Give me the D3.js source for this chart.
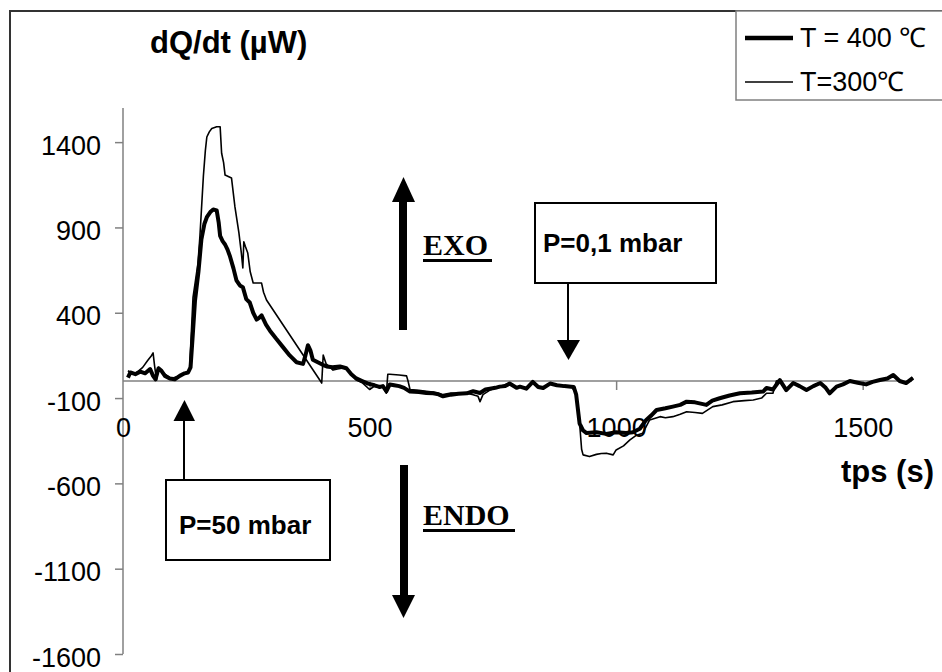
<!DOCTYPE html>
<html>
<head>
<meta charset="utf-8">
<script src="https://cdn.jsdelivr.net/npm/d3@7"></script>
<style>
html,body{margin:0;padding:0;background:#fff;}
svg{display:block;}
</style>
</head>
<body>
<svg id="chart" width="942" height="672"></svg>
<script>
// ---- data ----
const seriesNames = ["T = 400 \u2103", "T=300\u2103"];
const xTicks = [0, 500, 1000, 1500];
const yTicks = [-1600, -1100, -600, -100, 400, 900, 1400];

const time400 = [10,15,25,35,45,55,61,66,72,78,85,95,105,115,125,132,137,141,146,153,159,165,170,177,183,190,194,197,202,207,212,217,224,230,237,243,250,257,264,271,276,281,290,298,310,324,338,352,365,370,375,380,385,395,405,413,425,440,453,463,473,485,497,510,520,527,534,541,550,560,570,582,600,615,629,640,649,665,680,697,710,724,735,744,755,764,775,784,798,805,818,831,842,852,866,880,895,909,914,919,926,933,940,960,980,1000,1020,1034,1048,1061,1072,1082,1100,1115,1130,1143,1160,1183,1195,1210,1230,1251,1275,1298,1305,1318,1332,1345,1359,1372,1386,1400,1414,1425,1433,1447,1460,1474,1490,1507,1520,1535,1550,1562,1575,1588,1602];
const value400 = [20,50,40,55,45,70,30,10,75,60,30,15,10,30,45,50,80,250,470,640,830,920,960,990,1005,1000,930,850,820,800,770,730,660,590,560,550,480,460,400,360,370,385,330,295,250,200,150,110,100,150,210,180,125,110,95,85,80,85,75,40,15,0,-15,-25,-35,-30,-60,-20,-25,-30,-40,-62,-65,-70,-72,-78,-90,-80,-75,-72,-60,-70,-50,-45,-40,-33,-30,-15,-40,-33,-45,-5,-35,-41,-15,-25,-30,-33,-35,-80,-250,-290,-305,-300,-310,-300,-305,-300,-280,-228,-200,-170,-160,-150,-140,-121,-125,-140,-115,-101,-85,-72,-68,-62,-41,-50,5,-53,-12,-30,-53,-30,-12,-40,-72,-33,-20,0,-10,-20,-5,6,15,35,0,-12,18];

const time300 = [10,20,30,40,50,58,61,64,68,72,78,85,95,101,115,129,135,142,147,152,156,159,163,167,170,175,180,190,197,200,204,207,220,227,235,240,243,245,248,253,258,264,281,285,291,403,406,412,420,426,435,446,453,463,473,485,500,510,520,527,534,537,541,560,575,578,582,600,615,629,649,665,680,697,710,720,724,730,744,764,784,798,805,818,831,842,852,866,880,895,909,919,926,930,933,946,960,970,980,994,1000,1015,1028,1040,1054,1068,1089,1100,1115,1130,1143,1160,1175,1196,1215,1237,1260,1278,1295,1305,1318,1325,1332,1345,1359,1372,1386,1400,1414,1425,1433,1447,1460,1474,1490,1507,1520,1535,1550,1562,1575,1588,1602];
const value300 = [60,40,55,80,120,150,165,90,5,80,55,40,20,18,30,47,70,490,590,690,850,1000,1200,1350,1430,1460,1480,1490,1490,1335,1280,1207,1190,1020,870,750,662,816,790,750,640,574,574,520,475,-12,152,100,80,64,70,76,70,40,6,-10,-50,-30,-40,-33,-72,40,40,35,30,0,-50,-55,-60,-65,-80,-70,-72,-72,-80,-90,-121,-80,-53,-33,-12,-41,-33,-40,0,-30,-41,-12,-25,-33,-33,-72,-250,-400,-433,-443,-430,-425,-423,-433,-404,-380,-345,-320,-306,-228,-209,-215,-209,-195,-180,-185,-190,-150,-140,-121,-115,-111,-100,-72,-72,0,6,-53,-12,-30,-53,-30,-12,-40,-72,-33,-20,0,-10,-20,-5,6,15,35,0,-12,18];

// ---- layout ----
const svg = d3.select("#chart");
const x = d3.scaleLinear().domain([0, 1600]).range([123, 912]);
const y = d3.scaleLinear().domain([-1600, 1600]).range([654, 108]);
const sans = "'Liberation Sans', Arial, sans-serif";
const serif = "'Liberation Serif', 'Times New Roman', serif";

// outer border
svg.append("rect").attr("x", 10).attr("y", 11).attr("width", 1000).attr("height", 1000)
  .attr("fill", "none").attr("stroke", "#333").attr("stroke-width", 2);

// y axis
const yAxis = d3.axisLeft(y).tickValues(yTicks).tickSize(8).tickPadding(14).tickFormat(d => String(d));
const gy = svg.append("g").attr("transform", `translate(${x(0)},0)`).call(yAxis);
gy.select(".domain").attr("stroke", "#808080").attr("stroke-width", 1.5).attr("d", `M-0,${y(1600)}V${y(-1600)}`);
gy.selectAll(".tick line").attr("stroke", "#808080").attr("stroke-width", 1.5);
gy.selectAll(".tick text").attr("font-family", sans).attr("font-size", 27).attr("fill", "#000").attr("dy", "0.45em");

// x axis along zero
const xAxis = d3.axisBottom(x).tickValues(xTicks).tickSize(9).tickPadding(28).tickFormat(d => String(d));
const gx = svg.append("g").attr("transform", `translate(0,${y(0)})`).call(xAxis);
gx.select(".domain").attr("stroke", "#808080").attr("stroke-width", 1.5).attr("d", `M${x(0)},0H${x(1600)}`);
gx.selectAll(".tick line").attr("stroke", "#808080").attr("stroke-width", 1.5);
gx.selectAll(".tick").filter(d => d === 0).select("line").remove();
gx.selectAll(".tick text").attr("font-family", sans).attr("font-size", 27).attr("fill", "#000");

// lines
const line = d3.line().x(d => x(d[0])).y(d => y(d[1]));
const d300 = time300.map((t, i) => [t, value300[i]]);
const d400 = time400.map((t, i) => [t, value400[i]]);
svg.append("path").datum(d300).attr("d", line).attr("fill", "none").attr("stroke", "#000").attr("stroke-width", 1.6).attr("stroke-linejoin", "round");
svg.append("path").datum(d400).attr("d", line).attr("fill", "none").attr("stroke", "#000").attr("stroke-width", 4).attr("stroke-linejoin", "round");

// axis titles
svg.append("text").attr("x", 150).attr("y", 53).text("dQ/dt (\u00b5W)")
  .attr("font-family", sans).attr("font-weight", "bold").attr("font-size", 31);
svg.append("text").attr("x", 841).attr("y", 482).text("tps (s)")
  .attr("font-family", sans).attr("font-weight", "bold").attr("font-size", 31);

// legend
const lg = svg.append("g");
lg.append("rect").attr("x", 736).attr("y", 11).attr("width", 300).attr("height", 89)
  .attr("fill", "#fff").attr("stroke", "#808080").attr("stroke-width", 1.5);
lg.append("line").attr("x1", 745).attr("x2", 793).attr("y1", 38).attr("y2", 38).attr("stroke", "#000").attr("stroke-width", 4.5);
lg.append("line").attr("x1", 745).attr("x2", 793).attr("y1", 82).attr("y2", 82).attr("stroke", "#000").attr("stroke-width", 1.5);
lg.append("text").attr("x", 800).attr("y", 47).text(seriesNames[0])
  .attr("font-family", sans).attr("font-size", 27);
lg.append("text").attr("x", 800).attr("y", 91).text(seriesNames[1])
  .attr("font-family", sans).attr("font-size", 27);

// annotations
const ann = svg.append("g");
// EXO arrow
ann.append("rect").attr("x", 399).attr("y", 200).attr("width", 8).attr("height", 130).attr("fill", "#000");
ann.append("path").attr("d", "M392,202L415,202L403.5,177Z").attr("fill", "#000");
ann.append("text").attr("x", 423).attr("y", 255).text("EXO")
  .attr("font-family", serif).attr("font-weight", "bold").attr("font-size", 30);
ann.append("rect").attr("x", 423).attr("y", 259).attr("width", 69).attr("height", 3).attr("fill", "#000");
// ENDO arrow
ann.append("rect").attr("x", 400).attr("y", 465).attr("width", 8).attr("height", 132).attr("fill", "#000");
ann.append("path").attr("d", "M392,595L415,595L403.5,618Z").attr("fill", "#000");
ann.append("text").attr("x", 423).attr("y", 525).text("ENDO")
  .attr("font-family", serif).attr("font-weight", "bold").attr("font-size", 30);
ann.append("rect").attr("x", 423).attr("y", 529).attr("width", 92).attr("height", 3).attr("fill", "#000");
// P=0,1 mbar box + arrow
ann.append("rect").attr("x", 535).attr("y", 203).attr("width", 181).attr("height", 80)
  .attr("fill", "#fff").attr("stroke", "#000").attr("stroke-width", 2);
ann.append("text").attr("x", 543).attr("y", 252).text("P=0,1 mbar")
  .attr("font-family", sans).attr("font-weight", "bold").attr("font-size", 26);
ann.append("line").attr("x1", 568).attr("x2", 568).attr("y1", 283).attr("y2", 342).attr("stroke", "#000").attr("stroke-width", 2);
ann.append("path").attr("d", "M557,340L580,340L568.5,360Z").attr("fill", "#000");
// P=50 mbar box + arrow
ann.append("rect").attr("x", 166).attr("y", 480).attr("width", 164).attr("height", 80)
  .attr("fill", "#fff").attr("stroke", "#000").attr("stroke-width", 2);
ann.append("text").attr("x", 179).attr("y", 534).text("P=50 mbar")
  .attr("font-family", sans).attr("font-weight", "bold").attr("font-size", 26);
ann.append("line").attr("x1", 184).attr("x2", 184).attr("y1", 480).attr("y2", 419).attr("stroke", "#000").attr("stroke-width", 2);
ann.append("path").attr("d", "M173.5,421L195,421L184.5,400Z").attr("fill", "#000");
</script>
</body>
</html>
